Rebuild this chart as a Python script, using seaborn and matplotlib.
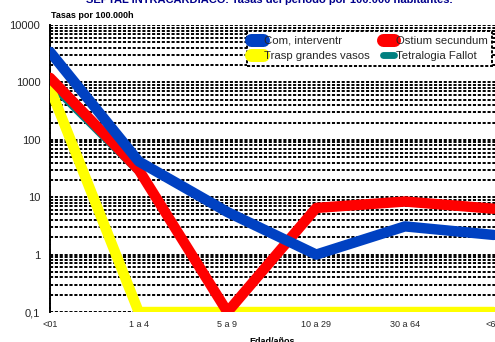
import matplotlib
matplotlib.use("Agg")
import matplotlib.pyplot as plt
import seaborn as sns
import pandas as pd
from matplotlib.lines import Line2D
from matplotlib.ticker import FixedLocator, FixedFormatter, LogLocator, NullFormatter

# Age groups and period rates per 100.000 inhabitants
grupos = ["<01", "1 a 4", "5 a 9", "10 a 29", "30 a 64", "<65"]
com_interventr = [3400, 42, 5.5, 1.0, 3.1, 2.2]
ostium_secundum = [1200, 30, 0.1, 6.5, 8.4, 6.3]
trasp_grandes_vasos = [800, 0.1, 0.1, 0.1, 0.1, 0.1]
tetralogia_fallot = [900, 26, 0.1, 0.1, 0.1, 0.1]

series = {
    "Com, interventr": com_interventr,
    "Ostium secundum": ostium_secundum,
    "Trasp grandes vasos": trasp_grandes_vasos,
    "Tetralogia Fallot": tetralogia_fallot,
}
colores = {
    "Com, interventr": "#0041c2",
    "Ostium secundum": "#ff0000",
    "Trasp grandes vasos": "#ffff00",
    "Tetralogia Fallot": "#008080",
}
grosor = {
    "Com, interventr": 7.5,
    "Ostium secundum": 7.5,
    "Trasp grandes vasos": 7.5,
    "Tetralogia Fallot": 3.8,
}
capa = {
    "Com, interventr": 5,
    "Ostium secundum": 4,
    "Trasp grandes vasos": 3,
    "Tetralogia Fallot": 2,
}

rows = []
for nombre, vals in series.items():
    for i, v in enumerate(vals):
        rows.append({"pos": i, "tasa": v, "serie": nombre})
df = pd.DataFrame(rows)

sns.set_style("white")
plt.rcParams["font.family"] = ["Liberation Sans", "DejaVu Sans"]

fig = plt.figure(figsize=(4.95, 3.42), dpi=100)
ax = fig.add_axes([0.101, 0.0877, 0.986, 0.8393])

for nombre in series:
    sub = df[df["serie"] == nombre]
    sns.lineplot(data=sub, x="pos", y="tasa", ax=ax, color=colores[nombre],
                 linewidth=grosor[nombre], zorder=capa[nombre],
                 solid_capstyle="round", solid_joinstyle="round", legend=False)

ax.set_yscale("log")
ax.set_ylim(0.1, 10000)
ax.set_xlim(0, 5.5)

dash = (0, (1.6, 0.9))
ax.yaxis.set_major_locator(FixedLocator([0.1, 1, 10, 100, 1000, 10000]))
ax.yaxis.set_major_formatter(FixedFormatter(["0,1", "1", "10", "100", "1000", "10000"]))
ax.yaxis.set_minor_locator(LogLocator(base=10, subs=range(2, 10)))
ax.yaxis.set_minor_formatter(NullFormatter())
ax.grid(True, which="both", axis="y", color="black", linestyle=dash, linewidth=1.4, zorder=1)
ax.grid(False, axis="x")
ax.set_axisbelow(True)

ax.set_xticks(range(len(grupos)))
ax.set_xticklabels(grupos, fontsize=6.5)
ax.tick_params(axis="y", labelsize=8, length=0, pad=7)
ax.tick_params(axis="x", length=0, pad=6)

for s in ["top", "right", "bottom"]:
    ax.spines[s].set_visible(False)
ax.spines["left"].set_linestyle(dash)
ax.spines["left"].set_linewidth(1.4)
ax.spines["left"].set_color("black")

ax.set_xlabel("")
ax.set_ylabel("")

fig.text(0.545, 1.0, "SEPTAL INTRACARDIACO. Tasas del periodo por 100.000 habitantes.",
         ha="center", va="center", fontsize=8, fontweight="bold", color="#00008b")
fig.text(0.103, 0.955, "Tasas por 100.000h", ha="left", va="center",
         fontsize=6.5, fontweight="bold", color="black")
fig.text(0.55, 0.0, "Edad/años", ha="center", va="center",
         fontsize=6.5, fontweight="bold", color="black")

# two-column legend filled row by row
orden = ["Com, interventr", "Trasp grandes vasos", "Ostium secundum", "Tetralogia Fallot"]
hs = [Line2D([0], [0], color=colores[n],
             linewidth=grosor[n] * (1.25 if n != "Tetralogia Fallot" else 1.3),
             solid_capstyle="round") for n in orden]
leg = fig.legend(hs, orden, ncol=2, loc="upper left", bbox_to_anchor=(0.487, 0.925),
                 fontsize=8.2, frameon=True, fancybox=False, handlelength=1.0,
                 handletextpad=0.15, columnspacing=1.1, borderpad=0.4, labelspacing=0.45)
fr = leg.get_frame()
fr.set_edgecolor("black")
fr.set_linestyle(dash)
fr.set_linewidth(1.4)
fr.set_facecolor("white")
fr.set_alpha(1)

fig.savefig("out.png", dpi=100)
